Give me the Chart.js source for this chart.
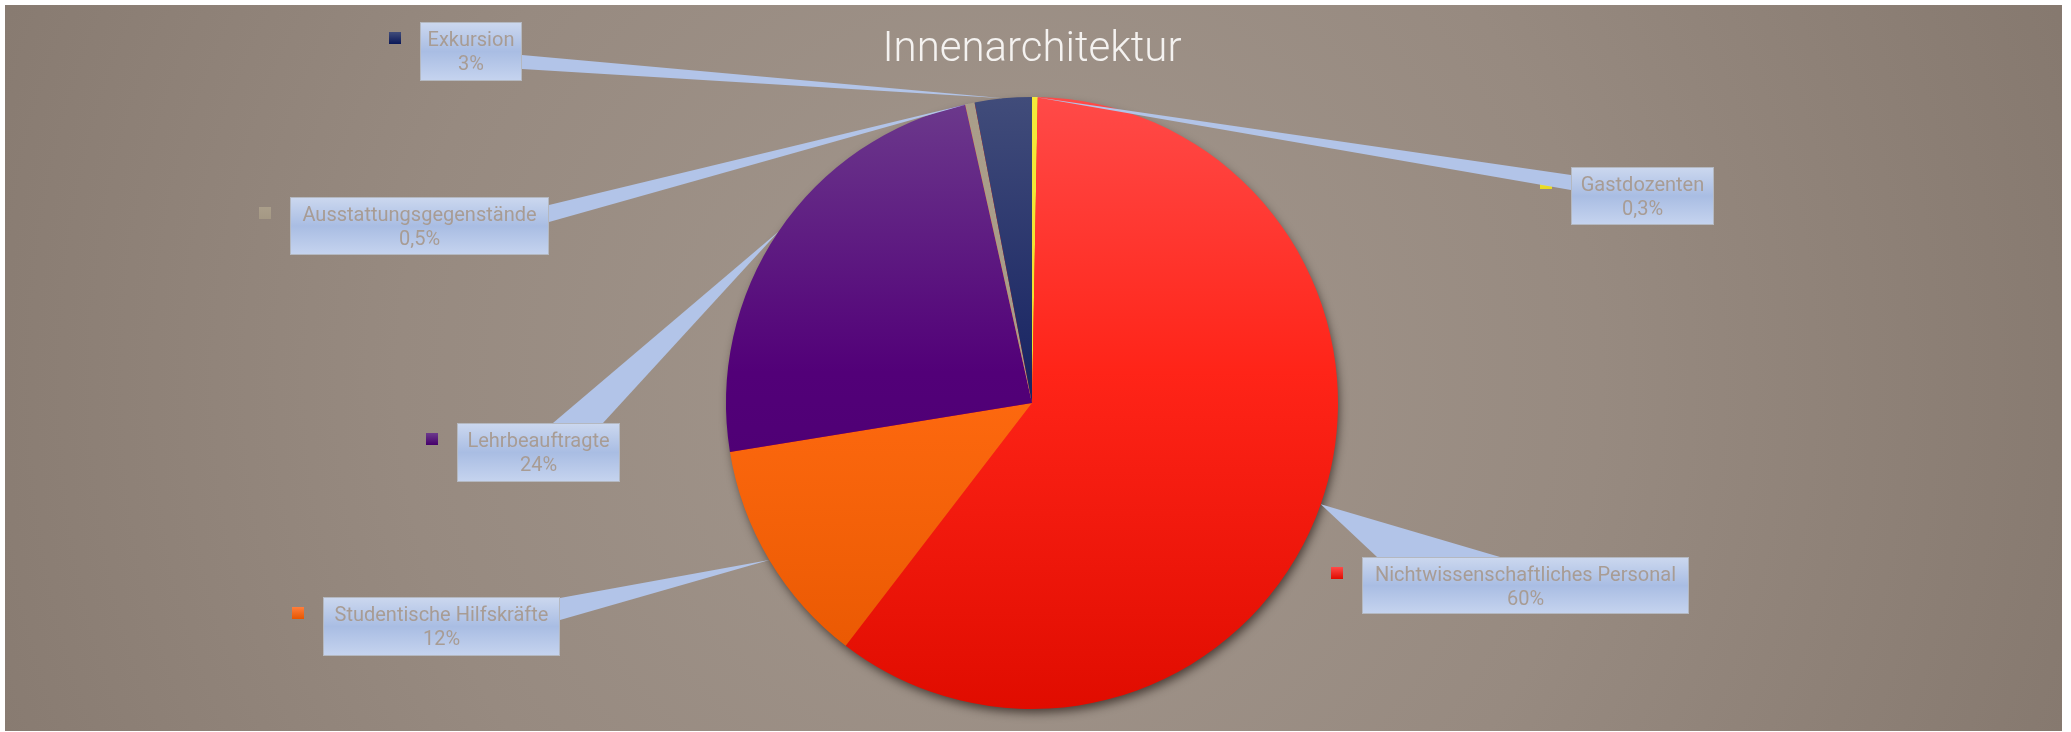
<!DOCTYPE html>
<html>
<head>
<meta charset="utf-8">
<script src="https://cdn.jsdelivr.net/npm/chart.js@4/dist/chart.umd.min.js"></script>
<style>
  html, body { margin: 0; padding: 0; background: #fff; }
  #wrap { width: 2071px; height: 732px; }
</style>
</head>
<body>
<div id="wrap"><canvas id="graficaPie" width="2071" height="732"></canvas></div>
<script>
// Daten
const labels = ['Gastdozenten', 'Nichtwissenschaftliches Personal', 'Studentische Hilfskräfte', 'Lehrbeauftragte', 'Ausstattungsgegenstände', 'Exkursion'];
const values = [0.3, 60, 12, 24, 0.5, 3];

// Farben (oben, mitte, unten)
const colorsTop = ['#f4ea3a', '#ff4a48', '#ff7e3c', '#6c3a8c', '#aa9e8a', '#414c7a'];
const colorsMid = ['#eee02c', '#ff2418', '#ff6a10', '#520078', '#a89c88', '#1a2664'];
const colorsBottom = ['#e8d820', '#e00c00', '#e65600', '#46006c', '#a49884', '#0a1858'];

// Position der Beschriftungen: box [x, y, w, h], Basis des Zeigers
const callouts = [
    { box: [1571, 167, 143, 58], base: [[1571, 175], [1571, 190]] },
    { box: [1362, 557, 327, 57], base: [[1377, 557], [1500, 557]] },
    { box: [323, 597, 237, 59], base: [[560, 598], [560, 620]] },
    { box: [457, 423, 163, 59], base: [[553, 423], [603, 423]] },
    { box: [290, 197, 259, 58], base: [[549, 205], [549, 222]] },
    { box: [420, 22, 102, 59], base: [[522, 55], [522, 69]] }
];

function fmt(v) {
    return String(v).replace('.', ',') + '%';
}

function sliceGradient(ctx, chart, i) {
    const ca = chart.chartArea;
    if (!ca) return colorsTop[i];
    const g = ctx.createLinearGradient(0, ca.top, 0, ca.bottom);
    g.addColorStop(0, colorsTop[i]);
    g.addColorStop(0.45, colorsMid[i]);
    g.addColorStop(1, colorsBottom[i]);
    return g;
}

// Hintergrund + Schatten
const backgroundPlugin = {
    id: 'hintergrund',
    beforeDraw(chart) {
        const ctx = chart.ctx;
        ctx.save();
        ctx.fillStyle = '#ffffff';
        ctx.fillRect(0, 0, chart.width, chart.height);
        const g = ctx.createRadialGradient(1000, 380, 50, 1000, 380, 1150);
        g.addColorStop(0, '#a2968c');
        g.addColorStop(0.5, '#978a80');
        g.addColorStop(1, '#85786e');
        ctx.fillStyle = g;
        ctx.fillRect(5, 5, 2057, 726);
        ctx.restore();
    },
    beforeDatasetsDraw(chart) {
        const arc = chart.getDatasetMeta(0).data[0];
        if (!arc) return;
        const ctx = chart.ctx;
        ctx.save();
        ctx.shadowColor = 'rgba(30, 20, 15, 0.65)';
        ctx.shadowBlur = 10;
        ctx.shadowOffsetX = 2;
        ctx.shadowOffsetY = 5;
        ctx.fillStyle = '#e81a10';
        ctx.beginPath();
        ctx.arc(arc.x, arc.y, arc.outerRadius - 1, 0, Math.PI * 2);
        ctx.fill();
        ctx.restore();
    }
};

// Beschriftungen mit Zeiger
const calloutPlugin = {
    id: 'beschriftung',
    afterDatasetsDraw(chart) {
        const ctx = chart.ctx;
        const arcs = chart.getDatasetMeta(0).data;
        ctx.save();
        arcs.forEach(function (arc, i) {
            const c = callouts[i];
            const [bx, by, bw, bh] = c.box;

            // Legendensymbol
            const sq = ctx.createLinearGradient(0, by + 10, 0, by + 22);
            sq.addColorStop(0, colorsTop[i]);
            sq.addColorStop(1, colorsBottom[i]);
            ctx.fillStyle = sq;
            ctx.fillRect(bx - 31, by + 10, 12, 12);

            // Zeiger
            const mid = (arc.startAngle + arc.endAngle) / 2;
            const tx = arc.x + Math.cos(mid) * arc.outerRadius;
            const ty = arc.y + Math.sin(mid) * arc.outerRadius;
            ctx.fillStyle = '#b2c4e8';
            ctx.beginPath();
            ctx.moveTo(c.base[0][0], c.base[0][1]);
            ctx.lineTo(tx, ty);
            ctx.lineTo(c.base[1][0], c.base[1][1]);
            ctx.closePath();
            ctx.fill();

            // Kasten
            const g = ctx.createLinearGradient(0, by, 0, by + bh);
            g.addColorStop(0, '#ccd8ef');
            g.addColorStop(0.5, '#a9bde3');
            g.addColorStop(1, '#c6d4ef');
            ctx.fillStyle = g;
            ctx.fillRect(bx, by, bw, bh);
            ctx.strokeStyle = '#b4b8c0';
            ctx.lineWidth = 1;
            ctx.strokeRect(bx + 0.5, by + 0.5, bw - 1, bh - 1);

            // Text
            ctx.fillStyle = '#a89c94';
            ctx.font = '20px Roboto';
            ctx.textAlign = 'center';
            ctx.textBaseline = 'alphabetic';
            ctx.fillText(labels[i], bx + bw / 2, by + 24);
            ctx.fillText(fmt(values[i]), bx + bw / 2, by + 48);
        });
        ctx.restore();
    }
};

new Chart(document.getElementById('graficaPie').getContext('2d'), {
    type: 'pie',
    data: {
        labels: labels,
        datasets: [{
            data: values,
            backgroundColor: function (c) { return sliceGradient(c.chart.ctx, c.chart, c.dataIndex); },
            borderWidth: 0
        }]
    },
    options: {
        responsive: false,
        animation: false,
        layout: { padding: { top: 0, bottom: 23, left: 0, right: 7 } },
        plugins: {
            legend: { display: false },
            tooltip: { enabled: false },
            title: {
                display: true,
                text: 'Innenarchitektur',
                color: '#f4f2f0',
                font: { family: 'Roboto', size: 42, weight: '300', lineHeight: 1.2 },
                padding: { top: 25, bottom: 21.6 }
            }
        }
    },
    plugins: [backgroundPlugin, calloutPlugin]
});
</script>
</body>
</html>
